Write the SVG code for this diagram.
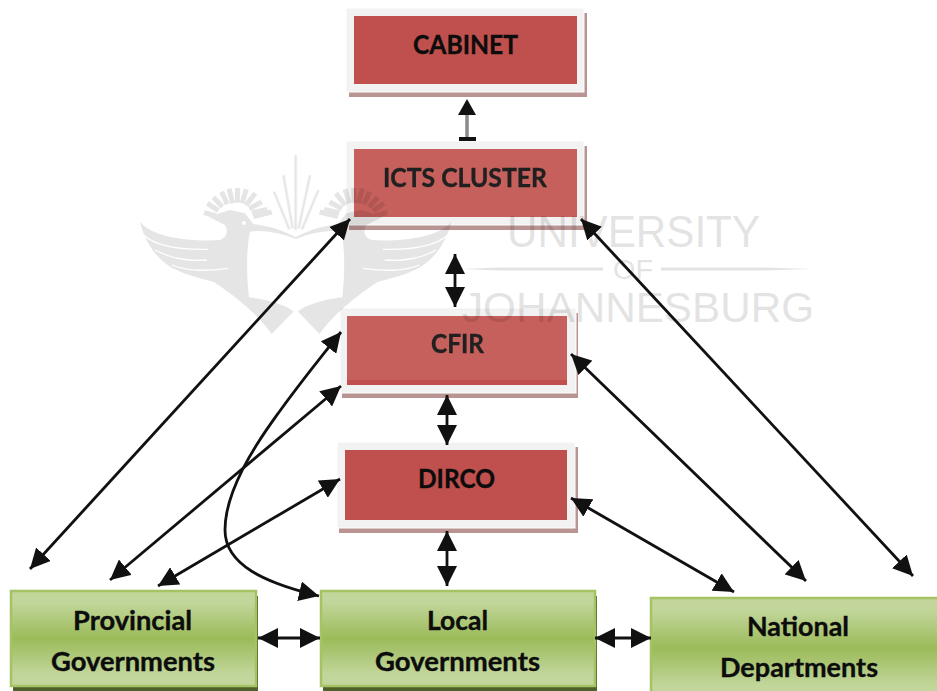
<svg xmlns="http://www.w3.org/2000/svg" width="937" height="691" viewBox="0 0 937 691">
<style>
.sh{fill:#b99493}
.pa{fill:#f2f2f2;stroke:#fff;stroke-width:1}
.r1{fill:#c0504d}
.r2{fill:#c6605c}
.gsh{fill:#4e6128}
.g{fill:url(#gr);stroke:#a5c364;stroke-width:2.5}
text{font-family:Lato,"Liberation Sans",sans-serif;font-weight:700;font-size:26px;fill:#0c0c0c;stroke:#0c0c0c;stroke-width:.35}
.wt{font-family:"Liberation Sans",Arial,sans-serif;font-weight:400;fill:#000;stroke:none}
.lt{fill:#202020;stroke:#202020}
.c{fill:none;stroke:#111;stroke-width:2.8;marker-start:url(#ah);marker-end:url(#ah)}
.f{fill:none;stroke:#000;stroke-linecap:butt}
</style>
<defs>
<linearGradient id="gr" x1="0" y1="0" x2="0" y2="1"><stop offset="0" stop-color="#c2d69b"/><stop offset=".12" stop-color="#c2d69b"/><stop offset=".5" stop-color="#9bbb59"/><stop offset=".88" stop-color="#c2d69b"/><stop offset="1" stop-color="#c2d69b"/></linearGradient>
<marker id="ah" markerUnits="userSpaceOnUse" markerWidth="20" markerHeight="20" refX="17" refY="8.500" orient="auto-start-reverse" viewBox="0 0 17 17"><path d="M0 0L17 8.500L0 17Z" fill="#111"/></marker>
<g id="bird">
<path fill="#000" d="M30 215C70 265 190 275 270 270C292 262 295 240 285 225L235 200L300 180L345 190L370 222C420 228 470 245 497 262L497 268C470 255 410 238 360 245C348 300 350 380 357 442C410 448 470 465 490 485L425 552C390 500 320 440 250 395C210 385 170 375 140 360C85 335 45 280 30 215Z"/>
<g class="f" stroke-width="15"><path d="M258 197L222 188M265 182L232 160M277 170L250 142M292 163L275 125M308 160L297 116M322 158L323 114M336 160L349 118M348 166L376 130M358 176L395 156M366 188L412 178M370 200L425 186"/></g>
<path fill="none" stroke="#fff" stroke-width="4" d="M40 255C80 290 160 300 235 298M75 300C120 325 180 335 230 330M125 345C170 362 215 365 295 355"/>
<circle cx="342" cy="219" r="6" fill="#fff"/>
</g>
</defs>

<g id="node-cabinet"><rect class="sh" x="349" y="13" width="238" height="84"/><rect class="pa" x="346" y="8" width="238" height="84"/><rect class="r1" x="354" y="16" width="223" height="68"/><text x="413" y="54" textLength="105" lengthAdjust="spacingAndGlyphs">CABINET</text></g>
<g id="node-icts"><rect class="sh" x="349" y="146" width="238" height="84"/><rect class="pa" x="346" y="141" width="238" height="84"/><rect class="r2" x="354" y="149" width="223" height="68"/></g>
<g id="node-cfir"><rect class="sh" x="342" y="313" width="236" height="85"/><rect class="pa" x="340" y="308" width="236" height="85"/><rect class="r2" x="347" y="316" width="220" height="69"/><rect class="r1" x="347" y="380" width="220" height="5"/></g>
<g id="node-dirco"><rect class="sh" x="339" y="447" width="239" height="86"/><rect class="pa" x="337" y="442" width="238" height="86"/><rect class="r1" x="345" y="450" width="222" height="70"/><text x="418" y="488" textLength="77" lengthAdjust="spacingAndGlyphs">DIRCO</text></g>
<g id="node-provincial"><rect class="gsh" x="13" y="596" width="245" height="95"/><rect class="g" x="11" y="591" width="245" height="95"/><text x="73" y="630" textLength="119" lengthAdjust="spacingAndGlyphs">Provincial</text><text x="51" y="671" textLength="164" lengthAdjust="spacingAndGlyphs">Governments</text></g>
<g id="node-local"><rect class="gsh" x="323" y="596" width="274" height="95"/><rect class="g" x="321" y="591" width="274" height="95"/><text x="427" y="630" textLength="61" lengthAdjust="spacingAndGlyphs">Local</text><text x="375" y="671" textLength="165" lengthAdjust="spacingAndGlyphs">Governments</text></g>
<g id="node-national"><rect class="g" x="651" y="598" width="290" height="100"/><text x="747" y="636" textLength="102" lengthAdjust="spacingAndGlyphs">National</text><text x="720" y="677" textLength="158" lengthAdjust="spacingAndGlyphs">Departments</text></g>

<g id="watermark" opacity=".105" transform="translate(130 150) scale(.33333)">
<use href="#bird"/>
<use href="#bird" transform="translate(994 0) scale(-1 1)"/>
<path class="f" stroke-width="7" d="M497 240V15M488 235L460 75M478 238L432 125M506 235L540 75M516 238L565 120"/>
</g>
<g id="watermark-text" opacity=".105">
<text class="wt" x="507" y="247" textLength="253" lengthAdjust="spacingAndGlyphs" style="font-size:44px">UNIVERSITY</text>
<text class="wt" x="613" y="279" textLength="40" lengthAdjust="spacingAndGlyphs" style="font-size:28px">OF</text>
<text class="wt" x="462" y="322" textLength="352" lengthAdjust="spacingAndGlyphs" style="font-size:43px">JOHANNESBURG</text>
<path d="M462 269L500 267.500H603V270.500H500ZM661 267.500H760L812 269L760 270.500H661Z"/>
</g>
<g id="node-labels-over"><text class="lt" x="383" y="187" textLength="164" lengthAdjust="spacingAndGlyphs">ICTS CLUSTER</text><text class="lt" x="431" y="353" textLength="53" lengthAdjust="spacingAndGlyphs">CFIR</text></g>

<g id="connectors">
<path d="M467 112V138" fill="none" stroke="#8a8a8a" stroke-width="3.500"/><path d="M467 99L476 115H458ZM459 137H476V141H459Z" fill="#111"/>
<path class="c" d="M455 254V307"/>
<path class="c" d="M447 395V445"/>
<path class="c" d="M447 531V586"/>
<path class="c" d="M258 638H320"/>
<path class="c" d="M595 638H651"/>
<path class="c" d="M350 219L30 569"/>
<path class="c" d="M341 332C270 420 225 480 225 530C225 565 265 583 319 596"/>
<path class="c" d="M341 386L110 580"/>
<path class="c" d="M340 479L158 586"/>
<path class="c" d="M581 219L913 576"/>
<path class="c" d="M571 354L806 581"/>
<path class="c" d="M571 498L734 592"/>
</g>
</svg>
